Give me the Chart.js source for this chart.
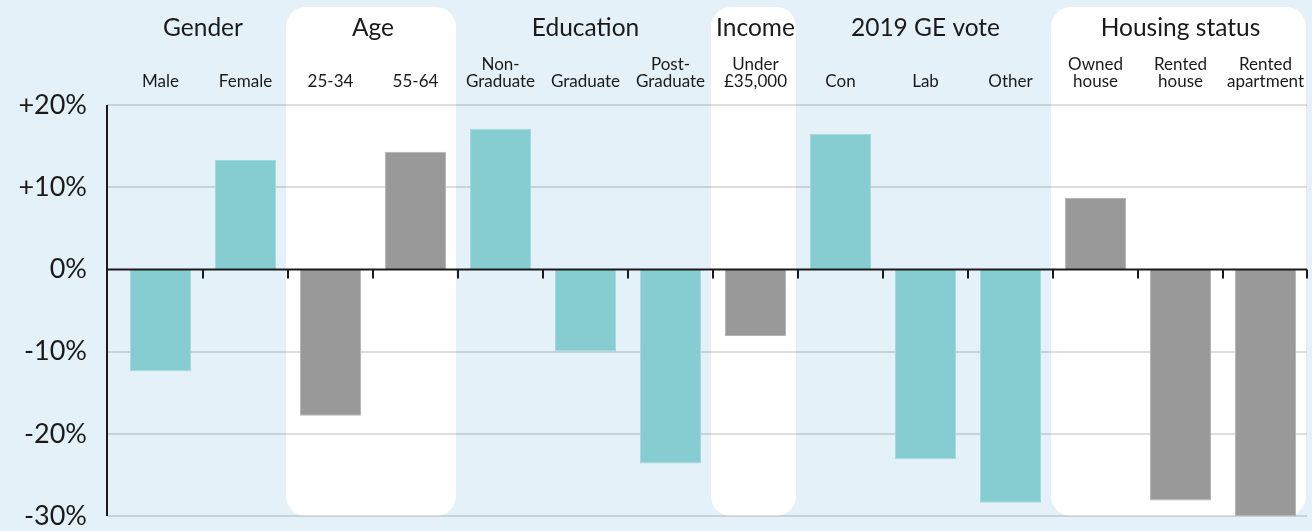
<!DOCTYPE html>
<html>
<head>
<meta charset="utf-8">
<script src="https://cdn.jsdelivr.net/npm/chart.js@4.4.1/dist/chart.umd.min.js"></script>
<style>
html, body { margin:0; padding:0; background:#e4f1f8; overflow:hidden; }
canvas { display:block; }
</style>
</head>
<body>
<canvas id="chart" width="1312" height="531"></canvas>
<script>
var categories = [["Male"], ["Female"], ["25-34"], ["55-64"], ["Non-", "Graduate"], ["Graduate"], ["Post-", "Graduate"],
  ["Under", "£35,000"], ["Con"], ["Lab"], ["Other"], ["Owned", "house"], ["Rented", "house"], ["Rented", "apartment"]];
var values = [-12.4, 13.3, -17.8, 14.3, 17.1, -10.0, -23.6, -8.1, 16.5, -23.1, -28.4, 8.7, -28.1, -30.0];
var groups = ["Gender", "Age", "Education", "Income", "2019 GE vote", "Housing status"];
var groupSizes = [2, 2, 3, 1, 3, 3];
var yTicks = [20, 10, 0, -10, -20, -30];

var FONT = "Lato, 'Noto Sans', sans-serif";
var bg = '#e4f1f8';
var teal = '#86cdd1';
var grey = '#999999';

// every second group sits on a white panel and gets grey bars
var groupOf = [];
groupSizes.forEach(function(n, g) { for (var k = 0; k < n; k++) groupOf.push(g); });
var barCol = groupOf.map(function(g) { return g % 2 == 1 ? grey : teal; });
var barEdge = groupOf.map(function(g) { return g % 2 == 1 ? '#b3b3b3' : '#a2d9db'; });

function roundRect(ctx, x, y, w, h, r) {
  ctx.beginPath();
  ctx.moveTo(x + r, y);
  ctx.lineTo(x + w - r, y);
  ctx.arcTo(x + w, y, x + w, y + r, r);
  ctx.lineTo(x + w, y + h - r);
  ctx.arcTo(x + w, y + h, x + w - r, y + h, r);
  ctx.lineTo(x + r, y + h);
  ctx.arcTo(x, y + h, x, y + h - r, r);
  ctx.lineTo(x, y + r);
  ctx.arcTo(x, y, x + r, y, r);
  ctx.closePath();
}

var decor = {
  id: 'decor',
  beforeDraw: function(chart) {
    var ctx = chart.ctx, xs = chart.scales.x, ys = chart.scales.y;
    var half = (xs.getPixelForValue(1) - xs.getPixelForValue(0)) / 2;
    ctx.save();
    ctx.fillStyle = bg;
    ctx.fillRect(0, 0, chart.width, chart.height);
    var start = 0;
    groups.forEach(function(name, g) {
      var end = start + groupSizes[g] - 1;
      if (g % 2 == 1) {
        var x0 = xs.getPixelForValue(start) - half - 2;
        var x1 = xs.getPixelForValue(end) + half - 2;
        ctx.fillStyle = '#ffffff';
        roundRect(ctx, x0, 7, x1 - x0, ys.getPixelForValue(-30) - 7, 20);
        ctx.fill();
      }
      start = end + 1;
    });
    ctx.restore();
  },
  beforeDatasetsDraw: function(chart) {
    var ctx = chart.ctx, ys = chart.scales.y, area = chart.chartArea;
    ctx.save();
    ctx.strokeStyle = 'rgba(0,0,0,0.13)';
    ctx.lineWidth = 2;
    yTicks.forEach(function(t) {
      if (t == 0) return;
      var y = Math.round(ys.getPixelForValue(t));
      ctx.beginPath();
      ctx.moveTo(area.left - 11, y);
      ctx.lineTo(area.right - 1, y);
      ctx.stroke();
    });
    ctx.restore();
  },
  afterDatasetsDraw: function(chart) {
    var ctx = chart.ctx, xs = chart.scales.x, ys = chart.scales.y, area = chart.chartArea;
    var half = (xs.getPixelForValue(1) - xs.getPixelForValue(0)) / 2;
    var y0 = ys.getPixelForValue(0);
    ctx.save();
    ctx.strokeStyle = '#1a1a1a';
    ctx.lineWidth = 2;
    ctx.beginPath();
    ctx.moveTo(area.left - 11, ys.getPixelForValue(20));
    ctx.lineTo(area.left - 11, ys.getPixelForValue(-30));
    ctx.moveTo(area.left - 11, y0);
    ctx.lineTo(area.right - 1, y0);
    for (var i = 0; i < categories.length; i++) {
      var x = Math.min(Math.round(xs.getPixelForValue(i) + half), area.right - 1);
      ctx.moveTo(x, y0);
      ctx.lineTo(x, y0 + 9);
    }
    ctx.stroke();

    // group headings
    ctx.fillStyle = '#1a1a1a';
    ctx.font = '24.5px ' + FONT;
    ctx.textAlign = 'center';
    ctx.textBaseline = 'middle';
    var start = 0;
    groups.forEach(function(name, g) {
      var end = start + groupSizes[g] - 1;
      var cx = (xs.getPixelForValue(start) + xs.getPixelForValue(end)) / 2;
      ctx.fillText(name, cx, 28);
      start = end + 1;
    });
    ctx.restore();
  }
};

new Chart(document.getElementById('chart').getContext('2d'), {
  type: 'bar',
  data: {
    labels: categories,
    datasets: [{
      data: values,
      backgroundColor: barCol,
      borderColor: barEdge,
      borderWidth: 1,
      barPercentage: 0.72,
      categoryPercentage: 1
    }]
  },
  options: {
    responsive: false,
    animation: false,
    layout: { padding: { top: 0, right: 4, bottom: 15, left: 0 } },
    plugins: { legend: { display: false }, tooltip: { enabled: false } },
    scales: {
      x: {
        position: 'top',
        grid: { display: false, drawTicks: false },
        border: { display: false },
        ticks: {
          autoSkip: false, maxRotation: 0, padding: 15, color: '#1a1a1a',
          font: { family: FONT, size: 17, lineHeight: 0.98 }
        },
        afterFit: function(s) { s.height = 105; s.paddingLeft = 0; s.paddingRight = 0; }
      },
      y: {
        min: -30, max: 20,
        grid: { display: false, drawTicks: false },
        border: { display: false },
        afterBuildTicks: function(s) { s.ticks = yTicks.map(function(v) { return { value: v }; }); },
        ticks: {
          padding: 31, color: '#1a1a1a',
          font: { family: FONT, size: 27 },
          callback: function(v) { return (v > 0 ? '+' : '') + v + '%'; }
        },
        afterFit: function(s) { s.width = 118; s.paddingTop = 0; s.paddingBottom = 0; }
      }
    }
  },
  plugins: [decor]
});
</script>
</body>
</html>
